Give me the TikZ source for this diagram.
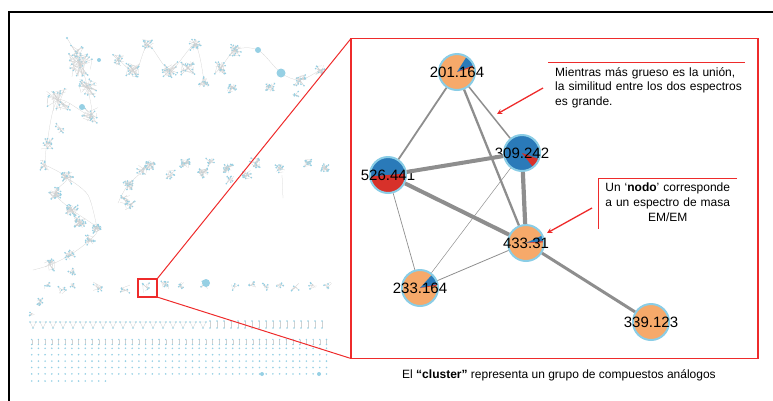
\documentclass[tikz,border=0pt]{standalone}
\usepackage{fontspec}
\setmainfont{Liberation Sans}
\usepackage{xcolor}
\definecolor{xorange}{HTML}{F6A96A}
\definecolor{xblue}{HTML}{2A7AB9}
\definecolor{xred}{HTML}{D7312A}
\definecolor{xrim}{HTML}{8ACDE6}
\definecolor{xlink}{HTML}{8E8E8E}
\definecolor{xframe}{HTML}{EE2B2B}
\definecolor{xthumb}{HTML}{96D0E4}
\usepackage{tikz}
\usetikzlibrary{positioning}
\tikzset{
  %% Styles %%
  pienode/.style = {circle, minimum size=36pt, inner sep=0pt, fill=xorange,
    draw=xrim, line width=2pt, font=\fontsize{15}{15}\selectfont},
  slices/.style = {path picture={
      \foreach \col/\a/\b in {#1}
        \fill[\col] (path picture bounding box.center) -- ++(\a:20)
          arc[start angle=\a, end angle=\b, radius=20] -- cycle;
  }},
  link/.style = {draw=xlink, line width=#1},
  pointer/.style = {xframe, line width=1.3pt, -stealth},
  note/.style = {inner xsep=7pt, inner ysep=5pt, font=\fontsize{12}{14.7}\selectfont},
  zoombox/.style = {draw=xframe, line width=1.4pt, inner sep=0pt, outer sep=0pt},
  thumbdot/.style = {fill=xthumb},
  thumbedge/.style = {draw=black!18, line width=0.25pt},
}

\begin{document}
\begin{tikzpicture}[x=1pt, y=-1pt]
  \useasboundingbox (0,0) rectangle (773,400);

  % outer frame
  \draw[line width=1.6pt] (9,420) |- (790,12);

  % molecular network overview
  \pgfmathsetseed{42}
  \draw[thumbedge] plot[smooth] coordinates {(67,38) (80,62) (88,90) (90,115) (58,100) (47,143) (45,165)};
  \draw[thumbedge] plot[smooth] coordinates {(115,55) (135,72) (148,45) (170,70) (195,45) (204,82)};
  \draw[thumbedge] plot[smooth] coordinates {(220,70) (235,50) (258,50) (281,73) (300,80) (320,70)};
  \draw[thumbedge] plot[smooth] coordinates {(45,165) (67,178) (55,193) (72,210) (97,228) (90,240) (70,255) (50,265) (33,270)};
  \draw[thumbedge] plot[smooth] coordinates {(67,178) (88,195) (97,228)};
  \draw[thumbedge] plot[smooth] coordinates {(118,203) (128,185) (150,165)};
  \draw[thumbedge] (282,175) -- (283,198);
  \foreach \cx/\cy/\s/\n in {
      80/65/12/26, 88/88/9/18, 58/100/12/18, 90/115/8/16, 78/50/7/8, 47/143/6/12, 60/128/5/6,
      118/60/6/12, 133/70/7/18, 148/45/6/12, 170/70/8/18, 195/45/6/14, 188/68/7/16, 204/82/5/12,
      220/68/6/16, 235/50/6/18, 232/88/5/12, 270/87/5/12, 300/80/6/16, 320/70/5/12, 295/95/4/6,
      45/165/5/8, 67/178/6/18, 55/193/6/18, 72/210/6/20, 80/222/6/20, 97/228/5/18, 90/240/5/12,
      70/255/5/12, 50/265/6/10, 72/272/4/8, 128/185/5/16, 150/165/5/20, 142/170/5/10,
      125/200/5/8, 130/205/5/8, 170/175/5/8, 185/163/5/18, 203/173/5/14, 210/162/4/8,
      228/168/5/18, 230/180/4/8, 247/175/5/12, 255/163/5/14, 280/168/5/10, 308/163/4/14,
      325/168/4/14, 47/285/4/5, 62/290/4/5, 72/284/4/4, 97/287/5/6, 125/290/5/5, 147/288/5/5,
      165/285/4/8, 180/286/4/6, 205/285/4/5, 235/287/4/4, 252/285/4/5, 265/286/4/5,
      280/286/4/5, 295/287/4/4, 313/285/4/4, 328/286/4/4, 40/302/4/10, 32/314/3/3}
    \foreach \k in {1,...,\n} {
      \pgfmathsetmacro{\dx}{\s*rand}
      \pgfmathsetmacro{\dy}{\s*rand}
      \draw[thumbedge] (\cx,\cy) -- ++(\dx,\dy) -- (\cx+\s*rand,\cy+\s*rand);
      \fill[thumbdot] (\cx+\dx,\cy+\dy) circle[radius=0.9];
    }
  \foreach \x/\y/\r in {67/38/1.2, 99/60/2, 82/107/3, 258/50/3, 281/73/4.5, 206/283/4}
    \fill[thumbdot] (\x,\y) circle[radius=\r];
  % small pairs and triples
  \foreach \x in {33,43,...,203} {
    \draw[thumbedge] (\x-3,322) -- (\x+3,322) -- (\x,328) -- cycle;
    \fill[thumbdot] (\x-3,322) circle[radius=0.8] (\x+3,322) circle[radius=0.8] (\x,328) circle[radius=0.8];
  }
  \foreach \x in {210,217,...,325} {
    \draw[thumbedge] (\x,321) -- (\x,328);
    \fill[thumbdot] (\x,321) circle[radius=0.8] (\x,328) circle[radius=0.8];
  }
  \foreach \c in {0,...,44} {
    \draw[thumbedge] ({31.7+6.7*\c},339.5) -- ({31.7+6.7*\c},344.5);
    \fill[thumbdot] ({31.7+6.7*\c},339.5) circle[radius=0.8] ({31.7+6.7*\c},344.5) circle[radius=0.8];
  }
  % singletons
  \foreach \r in {0,...,4}
    \foreach \c in {0,...,44}
      \fill[thumbdot] ({31.7+6.7*\c},{348.3+6.4*\r}) circle[radius=0.9];
  \foreach \c in {0,...,11}
    \fill[thumbdot] ({31.7+6.7*\c},381) circle[radius=0.9];
  \fill[thumbdot] (262,374) circle[radius=2] (319,374) circle[radius=2];

  % zoom
  \node[zoombox, minimum width=19pt, minimum height=18pt] (lens) at (147.5,288) {};
  \node[zoombox, minimum width=407pt, minimum height=320pt] (panel) at (554.5,198.5) {};
  \draw[xframe, line width=1pt] (lens.north east) -- (panel.north west);
  \draw[xframe, line width=1pt] (lens.south east) -- (panel.south west);

  % cluster
  \node[pienode, slices={xblue/-58/-22, xred/-22/-17}] (n201) at (457,72) {\makebox[0pt]{201.164}};
  \node[pienode, fill=xblue, slices={xred/20/52}] (n309) at (522,153) {\makebox[0pt]{309.242}};
  \node[pienode, fill=xblue, slices={xred/-5/175}] (n526) at (388,175) {\makebox[0pt]{526.441}};
  \node[pienode, slices={xblue/-25/-6, xred/-6/-2}] (n433) at (526,243) {\makebox[0pt]{433.31}};
  \node[pienode, slices={xblue/-48/-12, xred/-12/-8}] (n233) at (420,288) {\makebox[0pt]{233.164}};
  \node[pienode] (n339) at (651,322) {\makebox[0pt]{339.123}};

  \draw[link=1.8pt] (n201) -- (n526);
  \draw[link=2.3pt] (n201) -- (n433);
  \draw[link=1.5pt] (n201) -- (n309);
  \draw[link=4pt] (n526) -- (n309);
  \draw[link=4pt] (n526) -- (n433);
  \draw[link=4.2pt] (n309) -- (n433);
  \draw[link=0.7pt] (n526) -- (n233);
  \draw[link=0.5pt] (n309) -- (n233);
  \draw[link=0.8pt] (n433) -- (n233);
  \draw[link=3pt] (n433) -- (n339);

  % remarks
  \node[note, anchor=north west, text width=200pt, align=left] (remark1) at (548,62)
    {Mientras más grueso es la unión,\\la similitud entre los dos espectros\\es grande.};
  \draw[xframe, line width=0.8pt] (remark1.north west) -- ++(197,0);
  \coordinate (tail1) at (543,88);
  \coordinate (tip1) at (497,114);
  \draw[pointer] (tail1) -- (tip1);

  \node[note, anchor=north west, text width=125pt, align=center] (remark2) at (598,178)
    {Un ‘\textbf{nodo}’ corresponde\\a un espectro de masa\\EM/EM};
  \draw[xframe, line width=0.8pt] (remark2.north west) ++(139,0) -- (remark2.north west) -- ++(0,51);
  \coordinate (tail2) at (592,208);
  \coordinate (tip2) at (547,233);
  \draw[pointer] (tail2) -- (tip2);

  \node[font=\fontsize{12}{14}\selectfont] (caption) at (559,375)
    {El \textbf{“cluster”} representa un grupo de compuestos análogos};
\end{tikzpicture}
\end{document}
